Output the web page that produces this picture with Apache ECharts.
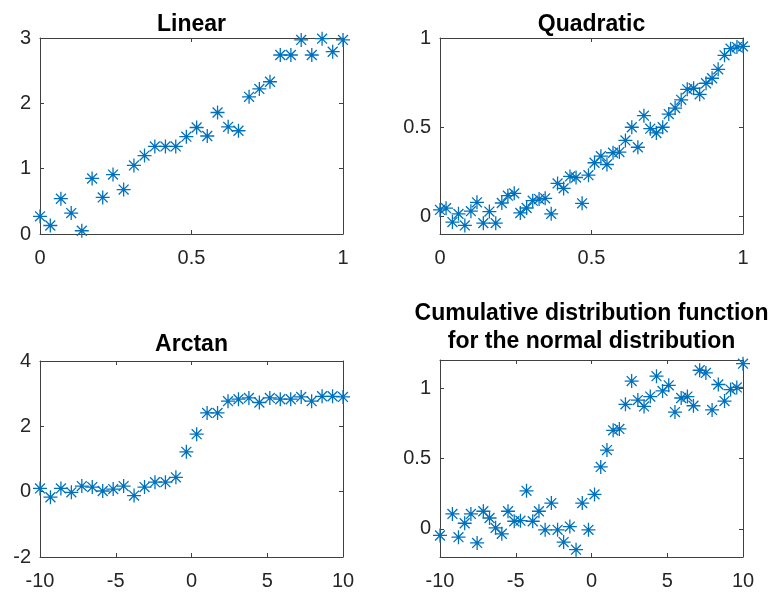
<!DOCTYPE html>
<html>
<head>
<meta charset="utf-8">
<script src="https://cdn.jsdelivr.net/npm/echarts@6/dist/echarts.min.js"></script>
<style>
  html, body { margin: 0; padding: 0; background: #fff; }
  #main { width: 777px; height: 595px; }
</style>
</head>
<body>
<div id="main"></div>
<script>
// sample positions
var linearX = [0, 0.034, 0.069, 0.103, 0.138, 0.172, 0.207, 0.241, 0.276, 0.310,
  0.345, 0.379, 0.414, 0.448, 0.483, 0.517, 0.552, 0.586, 0.621, 0.655,
  0.690, 0.724, 0.759, 0.793, 0.828, 0.862, 0.897, 0.931, 0.966, 1];
var linearY = [0.27, 0.13, 0.54, 0.32, 0.05, 0.85, 0.56, 0.91, 0.68, 1.05,
  1.20, 1.34, 1.34, 1.34, 1.49, 1.63, 1.50, 1.86, 1.64, 1.58,
  2.10, 2.22, 2.33, 2.74, 2.74, 2.97, 2.74, 2.99, 2.79, 2.97];

var quadX = [0, 0.020, 0.041, 0.061, 0.082, 0.102, 0.122, 0.143, 0.163, 0.184,
  0.204, 0.224, 0.245, 0.265, 0.286, 0.306, 0.327, 0.347, 0.367, 0.388,
  0.408, 0.429, 0.449, 0.469, 0.490, 0.510, 0.531, 0.551, 0.571, 0.592,
  0.612, 0.633, 0.653, 0.673, 0.694, 0.714, 0.735, 0.755, 0.776, 0.796,
  0.816, 0.837, 0.857, 0.878, 0.898, 0.918, 0.939, 0.959, 0.980, 1];
var quadY = [0.035, 0.045, -0.033, 0.013, -0.052, 0.028, 0.078, -0.039, 0.026, -0.039,
  0.074, 0.115, 0.128, 0.018, 0.046, 0.087, 0.096, 0.100, 0.013, 0.184,
  0.156, 0.223, 0.217, 0.072, 0.230, 0.300, 0.337, 0.290, 0.356, 0.360,
  0.425, 0.499, 0.387, 0.564, 0.491, 0.467, 0.499, 0.573, 0.607, 0.653,
  0.712, 0.718, 0.684, 0.746, 0.774, 0.824, 0.903, 0.940, 0.949, 0.953];

var arctanX = [-10, -9.31, -8.62, -7.93, -7.24, -6.55, -5.86, -5.17, -4.48, -3.79,
  -3.10, -2.41, -1.72, -1.03, -0.34, 0.34, 1.03, 1.72, 2.41, 3.10,
  3.79, 4.48, 5.17, 5.86, 6.55, 7.24, 7.93, 8.62, 9.31, 10];
var arctanY = [0.10, -0.17, 0.10, -0.02, 0.17, 0.14, 0.02, 0.08, 0.17, -0.12,
  0.14, 0.29, 0.29, 0.44, 1.22, 1.76, 2.41, 2.41, 2.77, 2.83,
  2.87, 2.73, 2.87, 2.83, 2.83, 2.90, 2.77, 2.92, 2.92, 2.90];

var cdfX = [-10, -9.59, -9.18, -8.78, -8.37, -7.96, -7.55, -7.14, -6.73, -6.33,
  -5.92, -5.51, -5.10, -4.69, -4.29, -3.88, -3.47, -3.06, -2.65, -2.24,
  -1.84, -1.43, -1.02, -0.61, -0.20, 0.20, 0.61, 1.02, 1.43, 1.84,
  2.24, 2.65, 3.06, 3.47, 3.88, 4.29, 4.69, 5.10, 5.51, 5.92,
  6.33, 6.73, 7.14, 7.55, 7.96, 8.37, 8.78, 9.18, 9.59, 10];
// second point is not visible in the picture (outside the axis)
var cdfY = [-0.047, null, 0.106, -0.059, 0.040, 0.106, -0.100, 0.125, 0.077, 0.007,
  -0.035, 0.125, 0.054, 0.058, 0.270, 0.054, 0.125, -0.007, 0.183, -0.007,
  -0.094, 0.016, -0.148, 0.183, -0.007, 0.245, 0.440, 0.560, 0.700, 0.710,
  0.885, 1.050, 0.915, 0.870, 0.940, 1.085, 0.980, 1.020, 0.830, 0.930,
  0.940, 0.875, 1.127, 1.108, 0.845, 1.026, 0.908, 0.990, 1.005, 1.174];

var titles = ['Linear', 'Quadratic', 'Arctan',
  'Cumulative distribution function\nfor the normal distribution'];

var unitTicks = [0, 0.5, 1];
var linearYTicks = [0, 1, 2, 3];
var arctanYTicks = [-2, 0, 2, 4];
var wideXTicks = [-10, -5, 0, 5, 10];

var FONT = '"Liberation Sans", Arial, Helvetica, sans-serif';
var LINE = '#404040';
var BLUE = '#0072BD';
var STAR = 'path://M0,-10L0,10M-10,0L10,0M-7.07,-7.07L7.07,7.07M-7.07,7.07L7.07,-7.07';

function zip(xs, ys) {
  var out = [];
  for (var i = 0; i < xs.length; i++) {
    if (ys[i] !== null) out.push([xs[i], ys[i]]);
  }
  return out;
}

function axis(grid, pos, min, max, ticks, withLabels, margin) {
  return {
    type: 'value', gridIndex: grid, position: pos, min: min, max: max,
    splitLine: { show: false },
    axisLine: { show: true, onZero: false, lineStyle: { color: LINE, width: 1 } },
    axisTick: { show: true, inside: true, length: 4, customValues: ticks,
      lineStyle: { color: LINE, width: 1 } },
    axisLabel: { show: withLabels, customValues: ticks, margin: margin,
      color: '#262626', fontSize: 20, fontFamily: FONT }
  };
}

var grids = [
  { left: 40, top: 38, width: 303, height: 196 },
  { left: 440, top: 38, width: 303, height: 196 },
  { left: 40, top: 361, width: 303, height: 196 },
  { left: 440, top: 360, width: 303, height: 197 }
];
var xr = [[0, 1, unitTicks], [0, 1, unitTicks], [-10, 10, wideXTicks], [-10, 10, wideXTicks]];
var yr = [[0, 3, linearYTicks], [-0.1, 1, unitTicks], [-2, 4, arctanYTicks], [-0.2, 1.2, unitTicks]];
var datas = [zip(linearX, linearY), zip(quadX, quadY), zip(arctanX, arctanY), zip(cdfX, cdfY)];
var titleTops = [11, 11, 331, 300];

var xAxes = [], yAxes = [], series = [], titleList = [];
for (var g = 0; g < 4; g++) {
  xAxes.push(axis(g, 'bottom', xr[g][0], xr[g][1], xr[g][2], true, 14));
  xAxes.push(axis(g, 'top', xr[g][0], xr[g][1], xr[g][2], false, 8));
  yAxes.push(axis(g, 'left', yr[g][0], yr[g][1], yr[g][2], true, 9));
  yAxes.push(axis(g, 'right', yr[g][0], yr[g][1], yr[g][2], false, 8));
  series.push({
    type: 'scatter', xAxisIndex: 2 * g, yAxisIndex: 2 * g,
    symbol: STAR, symbolSize: 14, clip: true,
    itemStyle: { color: 'rgba(0,0,0,0)', borderColor: BLUE, borderWidth: 1.3, opacity: 1 },
    data: datas[g]
  });
  titleList.push({
    text: titles[g], left: grids[g].left + grids[g].width / 2, top: titleTops[g],
    textAlign: 'center', padding: 0,
    textStyle: { fontSize: 23, fontWeight: 'bold', color: '#000', fontFamily: FONT, lineHeight: 28 }
  });
}

var chart = echarts.init(document.getElementById('main'), null, { renderer: 'canvas' });
chart.setOption({
  backgroundColor: '#fff',
  animation: false,
  title: titleList,
  grid: grids,
  xAxis: xAxes,
  yAxis: yAxes,
  series: series
});
</script>
</body>
</html>
